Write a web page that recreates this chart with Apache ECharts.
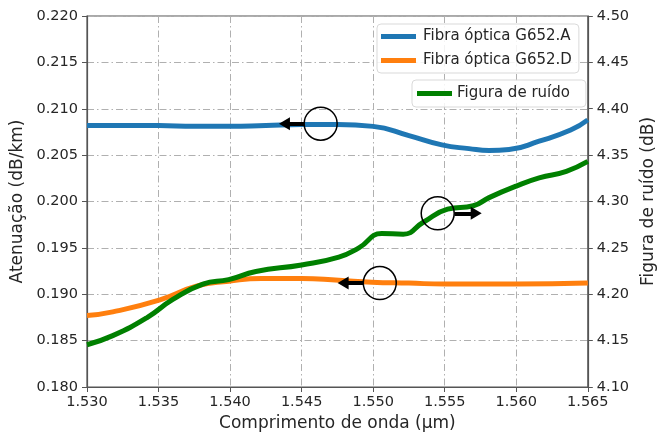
<!DOCTYPE html>
<html>
<head>
<meta charset="utf-8">
<script src="https://cdn.jsdelivr.net/npm/echarts@6/dist/echarts.min.js"></script>
<style>html,body{margin:0;padding:0;background:#fff;}#c{width:665px;height:437px;}</style>
</head>
<body>
<div id="c"></div>
<script>
// ---- data ----
const xTicks = [1.530, 1.535, 1.540, 1.545, 1.550, 1.555, 1.560, 1.565];
const leftTicks = [0.180, 0.185, 0.190, 0.195, 0.200, 0.205, 0.210, 0.215, 0.220];
const rightTicks = [4.10, 4.15, 4.20, 4.25, 4.30, 4.35, 4.40, 4.45, 4.50];

const xA = [1.530, 1.5325, 1.535, 1.5375, 1.540, 1.5425, 1.545, 1.5475, 1.550, 1.5525, 1.5548, 1.5567, 1.5581, 1.5595, 1.5616, 1.5638, 1.565];
const yA = [0.2082, 0.2082, 0.2082, 0.2081, 0.2081, 0.2082, 0.2083, 0.2083, 0.2081, 0.2071, 0.2061, 0.2057, 0.2055, 0.2056, 0.2065, 0.2077, 0.2088];

const xD = [1.530, 1.5318, 1.5351, 1.5377, 1.5399, 1.5422, 1.5450, 1.5476, 1.5499, 1.5525, 1.555, 1.560, 1.565];
const yD = [0.1877, 0.1881, 0.1894, 0.1909, 0.1914, 0.1917, 0.1917, 0.1915, 0.1913, 0.1912, 0.1911, 0.1911, 0.1912];

const xNF = [1.530, 1.5318, 1.5342, 1.5360, 1.5381, 1.5399, 1.5418, 1.5450, 1.5476, 1.5490, 1.5506, 1.5521, 1.5535, 1.5552, 1.5570, 1.5581, 1.5600, 1.5616, 1.5635, 1.565];
const yNF = [4.1456, 4.1554, 4.1749, 4.1944, 4.2110, 4.2157, 4.2245, 4.2316, 4.2400, 4.2500, 4.2655, 4.2648, 4.2776, 4.2918, 4.2954, 4.3042, 4.3166, 4.3254, 4.3326, 4.3432];

// annotation circles (centre) and arrows (start -> tip), in data coordinates
const circleA = [1.54633, 0.20839];
const arrowA = [[1.54517, 0.20839], [1.5438, 0.20839]];
const circleD = [1.55046, 0.19121];
const arrowD = [[1.54931, 0.19121], [1.5479, 0.19121]];
const circleNF = [1.55451, 4.2872];
const arrowNF = [[1.55568, 4.2872], [1.5572, 4.2872]];

const names = ['Fibra óptica G652.A', 'Fibra óptica G652.D', 'Figura de ruído'];
const colors = ['#1f77b4', '#ff7f0e', '#008000'];

const zip = (xs, ys) => xs.map((x, i) => [x, ys[i]]);

const FONT = 'DejaVu Sans';
const txt = '#262626';
const axisCol = '#555';
const gridLine = { show: true, lineStyle: { color: '#b0b0b0', width: 1, type: [7, 3, 1.5, 3] } };

function circleMark(c) {
  return {
    symbol: 'circle', symbolSize: 33, silent: true, animation: false,
    itemStyle: { color: 'rgba(0,0,0,0)', borderColor: '#000', borderWidth: 1.5 },
    label: { show: false },
    data: [{ coord: c }]
  };
}
function arrowMark(a) {
  return {
    silent: true, animation: false,
    symbol: ['none', 'triangle'], symbolSize: [13, 11],
    lineStyle: { color: '#000', width: 4, type: 'solid' },
    itemStyle: { color: '#000' },
    label: { show: false },
    emphasis: { disabled: true },
    data: [[{ coord: a[0] }, { coord: a[1] }]]
  };
}

const chart = echarts.init(document.getElementById('c'), null, { renderer: 'canvas' });
chart.setOption({
  animation: false,
  textStyle: { fontFamily: FONT },
  grid: { left: 87, right: 75, top: 16, bottom: 45, show: true, borderColor: axisCol, borderWidth: 1.2, backgroundColor: 'transparent' },
  legend: [
    {
      data: [names[0], names[1]], orient: 'vertical', left: 377, top: 24,
      icon: 'rect', itemWidth: 35, itemHeight: 5, itemGap: 7,
      padding: [4, 7, 4, 4], borderColor: '#d9d9d9', borderWidth: 1, borderRadius: 4,
      backgroundColor: 'rgba(255,255,255,0.85)',
      textStyle: { fontFamily: FONT, fontSize: 15, color: txt, lineHeight: 17, padding: [0, 0, 0, 2] }
    },
    {
      data: [names[2]], orient: 'vertical', left: 412, top: 80,
      icon: 'rect', itemWidth: 35, itemHeight: 5,
      padding: [5, 16, 5, 5], borderColor: '#d9d9d9', borderWidth: 1, borderRadius: 4,
      backgroundColor: 'rgba(255,255,255,0.85)',
      textStyle: { fontFamily: FONT, fontSize: 15, color: txt, lineHeight: 17 }
    }
  ],
  xAxis: {
    type: 'value', min: xTicks[0], max: xTicks[xTicks.length - 1], interval: 0.005,
    name: 'Comprimento de onda (µm)', nameLocation: 'middle', nameGap: 28,
    nameTextStyle: { fontFamily: FONT, fontSize: 17, color: txt },
    axisLine: { show: true, onZero: false, lineStyle: { color: axisCol, width: 1.2 } },
    axisTick: { show: true, length: 5, lineStyle: { color: axisCol } },
    axisLabel: { fontFamily: FONT, fontSize: 14.5, color: txt, margin: 8, formatter: v => v.toFixed(3) },
    splitLine: gridLine
  },
  yAxis: [
    {
      type: 'value', position: 'left', min: leftTicks[0], max: leftTicks[leftTicks.length - 1], interval: 0.005,
      name: 'Atenuação (dB/km)', nameLocation: 'middle', nameGap: 52,
      nameTextStyle: { fontFamily: FONT, fontSize: 17, color: txt },
      axisLine: { show: true, lineStyle: { color: axisCol, width: 1.2 } },
      axisTick: { show: true, length: 5, lineStyle: { color: axisCol } },
      axisLabel: { fontFamily: FONT, fontSize: 14.5, color: txt, margin: 9, formatter: v => v.toFixed(3) },
      splitLine: gridLine
    },
    {
      type: 'value', position: 'right', min: rightTicks[0], max: rightTicks[rightTicks.length - 1], interval: 0.05,
      name: 'Figura de ruído (dB)', nameLocation: 'middle', nameGap: 47,
      nameTextStyle: { fontFamily: FONT, fontSize: 17, color: txt },
      axisLine: { show: true, lineStyle: { color: axisCol, width: 1.2 } },
      axisTick: { show: true, length: 5, lineStyle: { color: axisCol } },
      axisLabel: { fontFamily: FONT, fontSize: 14.5, color: txt, margin: 9, formatter: v => v.toFixed(2) },
      splitLine: { show: false }
    }
  ],
  series: [
    {
      name: names[0], type: 'line', yAxisIndex: 0, data: zip(xA, yA), smooth: 0.5,
      showSymbol: false, symbol: 'none', color: colors[0], lineStyle: { width: 5 }, z: 2,
      markPoint: circleMark(circleA), markLine: arrowMark(arrowA)
    },
    {
      name: names[1], type: 'line', yAxisIndex: 0, data: zip(xD, yD), smooth: 0.5,
      showSymbol: false, symbol: 'none', color: colors[1], lineStyle: { width: 5 }, z: 3,
      markPoint: circleMark(circleD), markLine: arrowMark(arrowD)
    },
    {
      name: names[2], type: 'line', yAxisIndex: 1, data: zip(xNF, yNF), smooth: 0.5,
      showSymbol: false, symbol: 'none', color: colors[2], lineStyle: { width: 5 }, z: 4,
      markPoint: circleMark(circleNF), markLine: arrowMark(arrowNF)
    }
  ]
});
</script>
</body>
</html>
